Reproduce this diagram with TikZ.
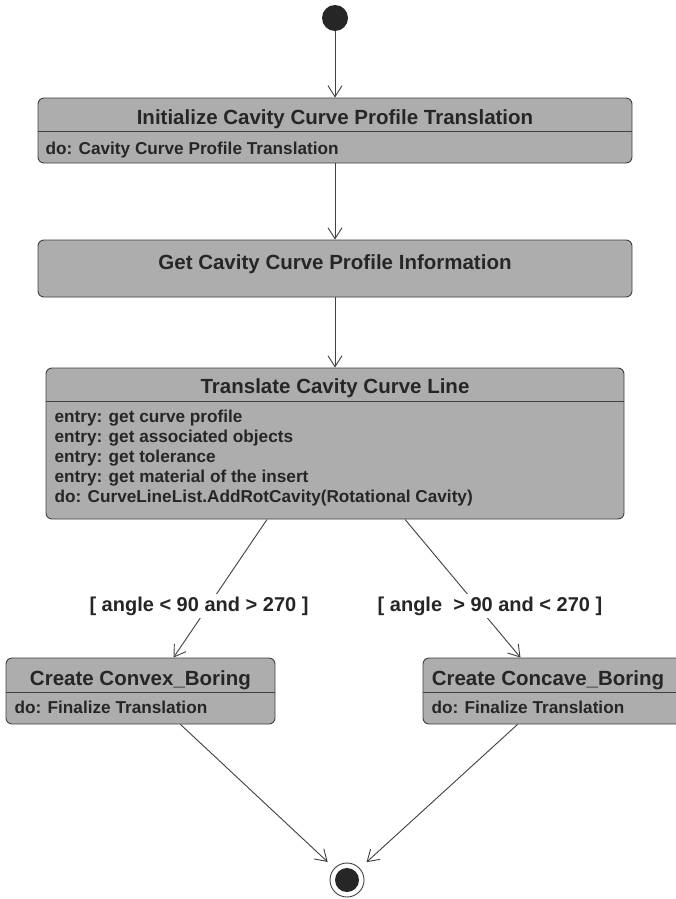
\documentclass[tikz,border=0pt]{standalone}
\usepackage{fontspec}
\setmainfont{Liberation Sans}
\usetikzlibrary{arrows.meta}

\tikzset{
    state/.style={draw=black!75, fill=black!32, rounded corners=6pt, line width=0.9pt, inner sep=0pt},
    title/.style={anchor=mid, font=\fontsize{20.5}{24}\selectfont\bfseries, text=black!85},
    item/.style={anchor=mid west, font=\fontsize{17.2}{20}\selectfont\bfseries, text=black!85},
    guard/.style={fill=white, inner sep=3pt, font=\fontsize{20}{24}\selectfont\bfseries, text=black!85},
    flow/.style={draw=black!75, line width=0.9pt, -{Straight Barb[length=11pt,width=14pt]}},
    sep/.style={draw=black!75, line width=0.9pt}
}

\begin{document}
\begin{tikzpicture}[x=1pt, y=-1pt]

    \fill[white, use as bounding box] (0,0) rectangle (676,899);

    \node[circle, fill=black!85, minimum size=26pt, inner sep=0pt] (start) at (335,18) {};

    \node[state, minimum width=594pt, minimum height=65pt] (init) at (335,130.5) {};
    \node[title] (initT) at (335,122) {Initialize Cavity Curve Profile Translation};
    \draw[sep] ([yshift=-34pt]init.north west) -- ([yshift=-34pt]init.north east);
    \node[item] (initD) at (42,152) {do: Cavity Curve Profile Translation};

    \node[state, minimum width=594pt, minimum height=57pt] (info) at (335,268.5) {};
    \node[title] (infoT) at (335,267) {Get Cavity Curve Profile Information};

    \node[state, minimum width=578pt, minimum height=151pt] (trans) at (335,443.5) {};
    \node[title] (transT) at (335,391) {Translate Cavity Curve Line};
    \draw[sep] ([yshift=-34pt]trans.north west) -- ([yshift=-34pt]trans.north east);
    \foreach \txt [count=\i] in {entry: get curve profile, entry: get associated objects,
        entry: get tolerance, entry: get material of the insert,
        do: CurveLineList.AddRotCavity(Rotational Cavity)}
        \node[item] (trans-\i) at (51,{399.5+20*\i}) {\txt};

    \node[state, minimum width=269pt, minimum height=66pt] (convex) at (140.5,691) {};
    \node[title] (convexT) at (140.5,683) {Create Convex\_Boring};
    \draw[sep] ([yshift=-35pt]convex.north west) -- ([yshift=-35pt]convex.north east);
    \node[item] (convexD) at (11,711) {do: Finalize Translation};

    \node[state, minimum width=265pt, minimum height=66pt] (concave) at (555.5,691) {};
    \node[title] (concaveT) at (548,683) {Create Concave\_Boring};
    \draw[sep] ([yshift=-35pt]concave.north west) -- ([yshift=-35pt]concave.north east);
    \node[item] (concaveD) at (428,711) {do: Finalize Translation};

    \node[circle, draw=black!75, line width=0.9pt, minimum size=34pt, inner sep=0pt] (final) at (347,880) {};
    \node[circle, fill=black!85, minimum size=24pt, inner sep=0pt] (finalDot) at (final) {};

    \draw[flow] (start) -- (init);
    \draw[flow] (init) -- (info);
    \draw[flow] (info) -- (trans);
    \draw[flow] ([xshift=-68pt]trans.south) -- ([xshift=33pt]convex.north);
    \draw[flow] ([xshift=70pt]trans.south) -- ([xshift=-35pt]concave.north);
    \draw[flow, shorten >=9pt] ([xshift=40pt]convex.south) -- (final);
    \draw[flow, shorten >=9pt] ([xshift=-38pt]concave.south) -- (final);

    \node[guard] (guardL) at (199,606) {[ angle < 90 and > 270 ]};
    \node[guard] (guardR) at (490,606) {[ angle \ > 90 and < 270 ]};

\end{tikzpicture}
\end{document}
